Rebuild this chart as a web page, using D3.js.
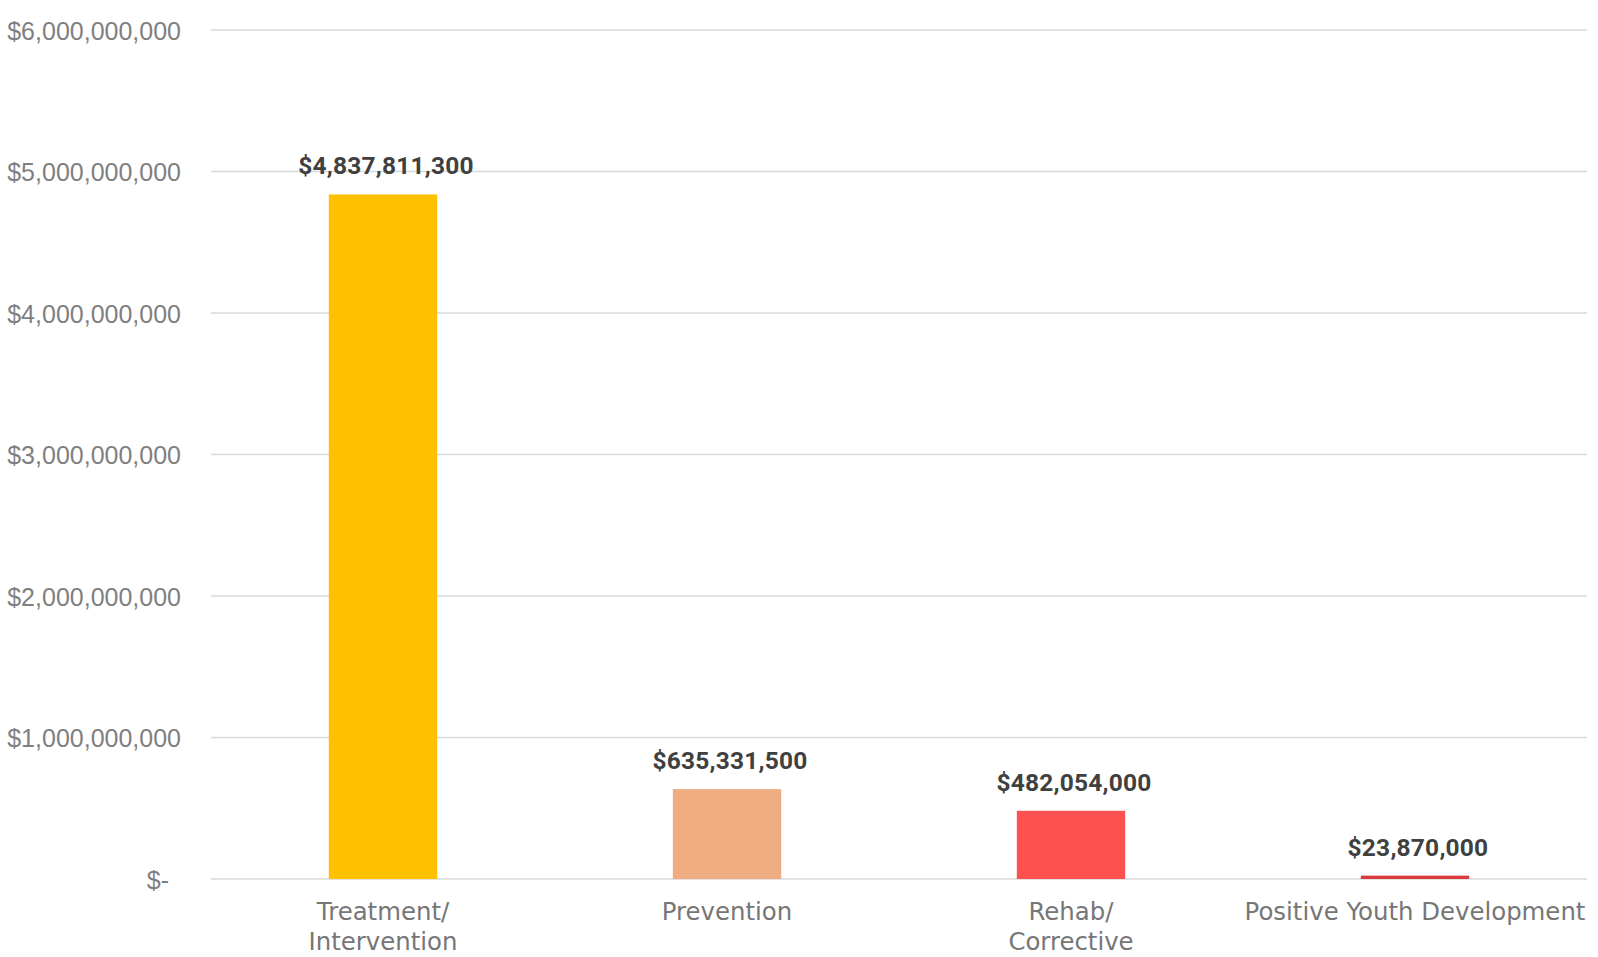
<!DOCTYPE html>
<html>
<head>
<meta charset="utf-8">
<script src="https://cdn.jsdelivr.net/npm/d3@7"></script>
<style>
  html, body { margin: 0; padding: 0; background: #ffffff; }
  svg { display: block; }
</style>
</head>
<body>
<svg id="chart" width="1598" height="957"></svg>
<script>
// Spending by program category
const categories = ["Treatment/\nIntervention", "Prevention", "Rehab/\nCorrective", "Positive Youth Development"];
const values = [4837811300, 635331500, 482054000, 23870000];
const barColors = ["#FFC000", "#EFAC80", "#FF5050", "#D93A3A"];
const tickValues = [0, 1e9, 2e9, 3e9, 4e9, 5e9, 6e9];
const tickLabels = ["$-", "$1,000,000,000", "$2,000,000,000", "$3,000,000,000", "$4,000,000,000", "$5,000,000,000", "$6,000,000,000"];

const svg = d3.select("#chart");
const plot = { left: 211, right: 1587, top: 30, bottom: 879 };

const x = d3.scaleBand()
  .domain(categories)
  .range([plot.left, plot.right])
  .paddingInner(0.685)
  .paddingOuter(0.3425);

const y = d3.scaleLinear()
  .domain([0, 6e9])
  .range([plot.bottom, plot.top]);

// Horizontal gridlines
svg.append("g")
  .selectAll("line")
  .data(tickValues)
  .join("line")
  .attr("x1", plot.left)
  .attr("x2", plot.right)
  .attr("y1", d => y(d))
  .attr("y2", d => y(d))
  .attr("stroke", "#D9D9D9")
  .attr("stroke-width", 1.5);

// Y axis labels
const yAxis = d3.axisLeft(y)
  .tickValues(tickValues)
  .tickFormat((d, i) => tickLabels[i])
  .tickSize(0)
  .tickPadding(0);

const yg = svg.append("g")
  .attr("transform", `translate(181,0)`)
  .call(yAxis);
yg.select(".domain").remove();
yg.selectAll("text")
  .attr("fill", "#7F7F7F")
  .attr("font-family", "'Liberation Sans', Arial, sans-serif")
  .attr("font-size", 25)
  .attr("dy", "0.36em")
  .attr("x", d => d === 0 ? -12 : 0);

// Bars
svg.append("g")
  .selectAll("rect")
  .data(values)
  .join("rect")
  .attr("x", (d, i) => x(categories[i]))
  .attr("width", x.bandwidth())
  .attr("y", d => y(d))
  .attr("height", d => y(0) - y(d))
  .attr("fill", (d, i) => barColors[i]);

// Value labels
const fmt = d3.format("$,.0f");
svg.append("g")
  .selectAll("text")
  .data(values)
  .join("text")
  .attr("x", (d, i) => x(categories[i]) + x.bandwidth() / 2 + 3)
  .attr("y", d => y(d) - 20)
  .attr("text-anchor", "middle")
  .attr("fill", "#404040")
  .attr("font-family", "Roboto, 'Liberation Sans', sans-serif")
  .attr("font-weight", "bold")
  .attr("font-size", 24.5)
  .attr("letter-spacing", 0.2)
  .text(d => fmt(d));

// Category labels (x axis)
const xg = svg.append("g")
  .attr("transform", `translate(0,${plot.bottom})`)
  .call(d3.axisBottom(x).tickSize(0).tickFormat(""));
xg.select(".domain").remove();
xg.selectAll(".tick").each(function(d) {
  const lines = d.split("\n");
  const t = d3.select(this).append("text")
    .attr("text-anchor", "middle")
    .attr("fill", "#767676")
    .attr("font-family", "'DejaVu Sans', sans-serif")
    .attr("font-size", 24.4);
  lines.forEach((ln, j) => {
    t.append("tspan")
      .attr("x", 0)
      .attr("y", 41 + j * 30)
      .text(ln);
  });
});
</script>
</body>
</html>
